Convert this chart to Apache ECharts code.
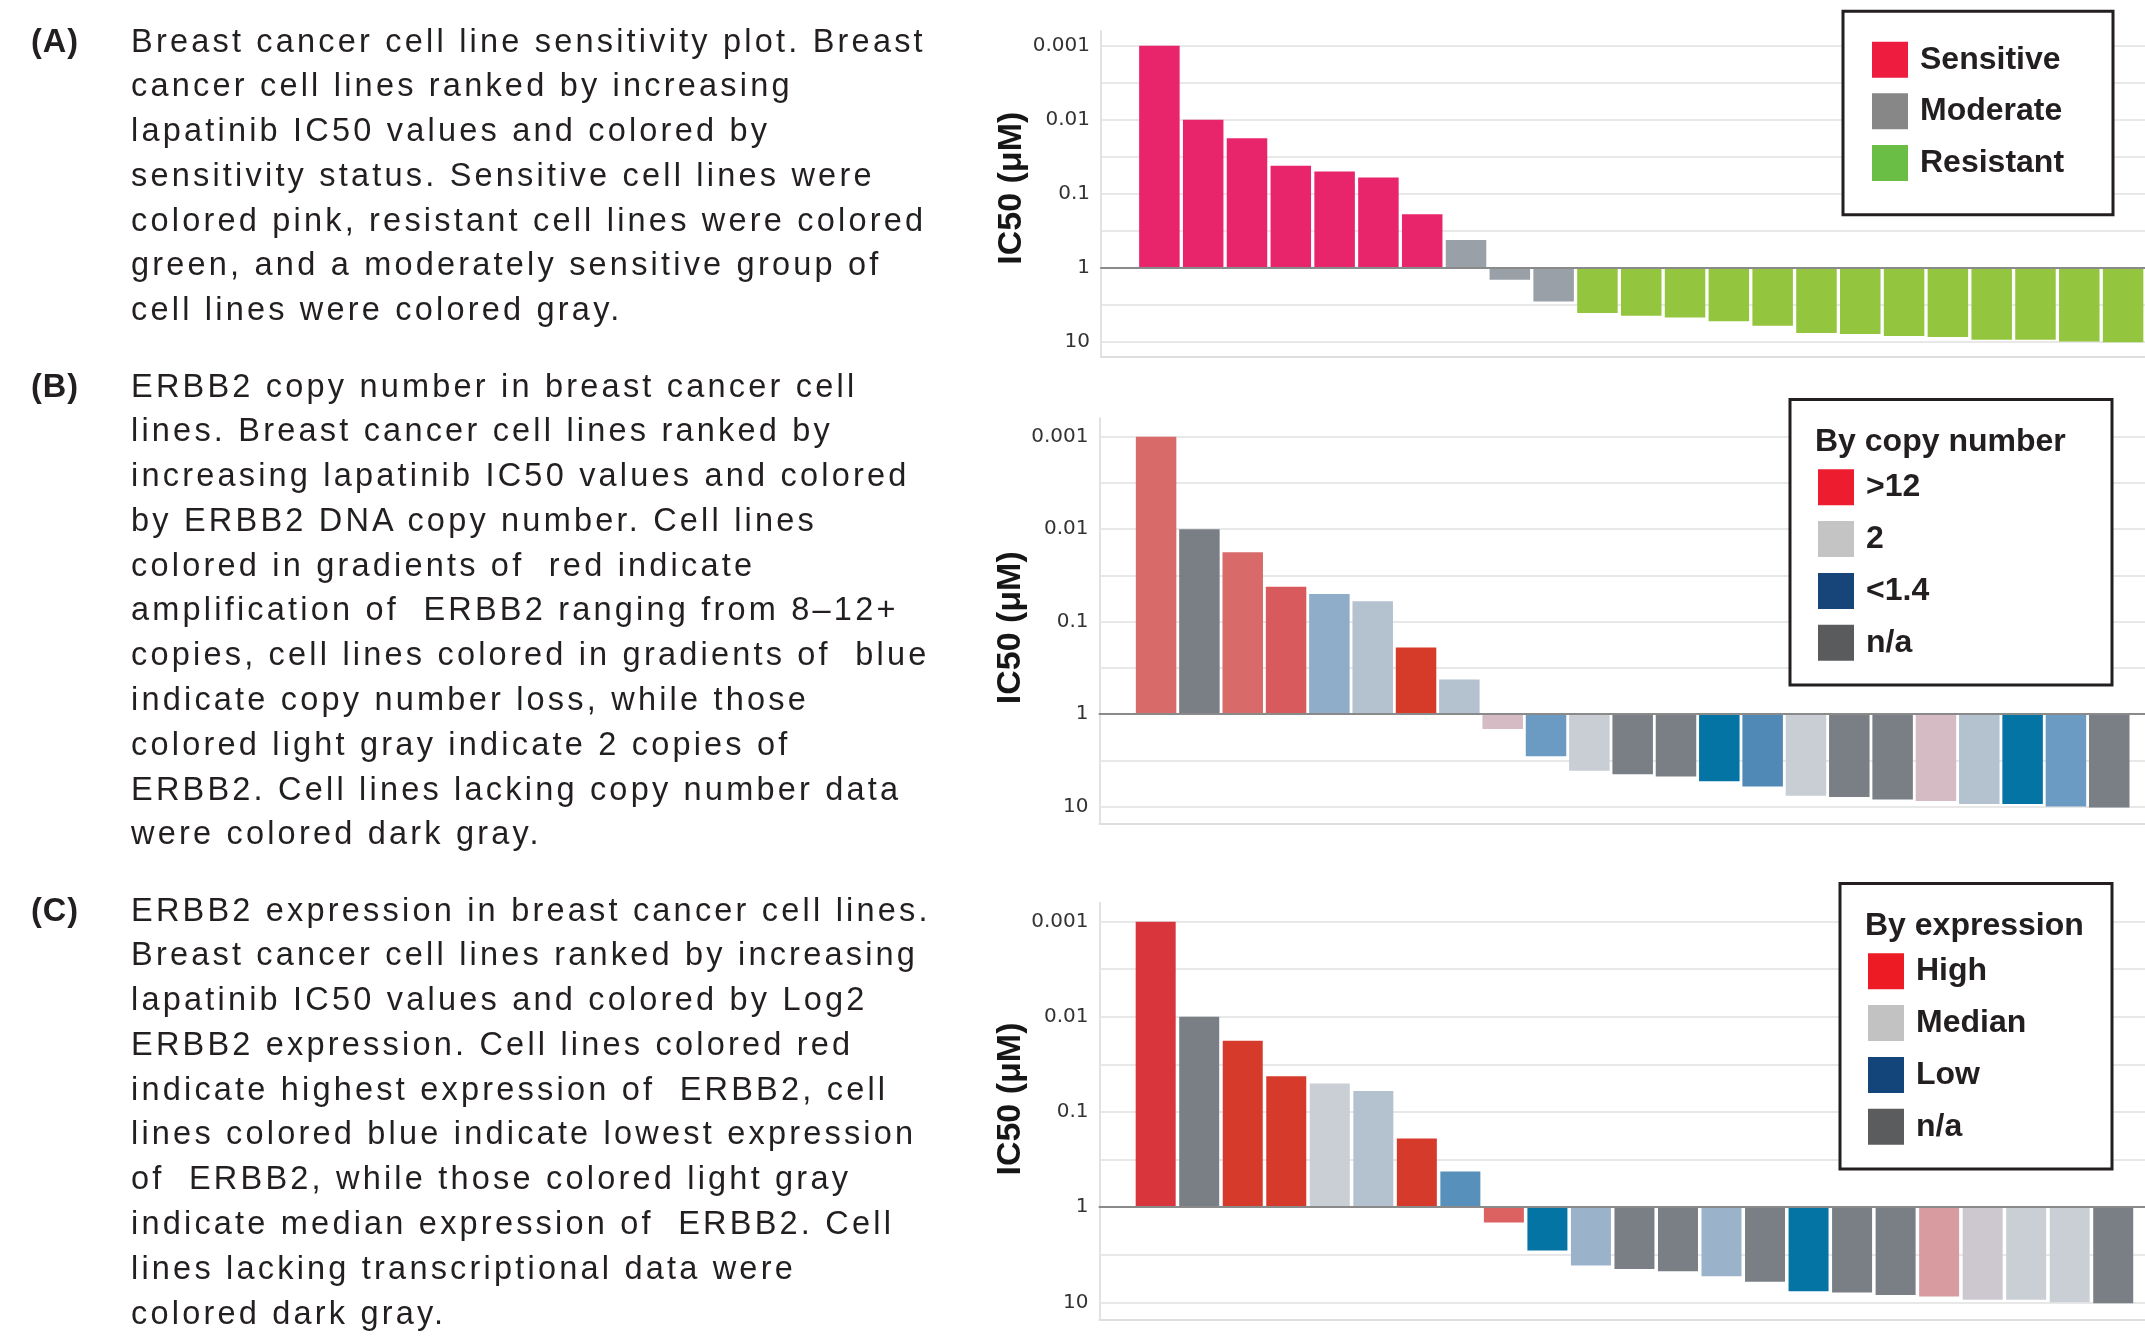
<!DOCTYPE html>
<html>
<head>
<meta charset="utf-8">
<script src="https://cdn.jsdelivr.net/npm/echarts@6/dist/echarts.min.js"></script>
<style>
html,body{margin:0;padding:0;background:#ffffff;}
#chart{position:absolute;left:0;top:0;width:2145px;height:1344px;}
.cap{position:absolute;left:131px;font-family:'Liberation Sans',Arial,sans-serif;font-size:32.5px;letter-spacing:3.2px;line-height:44.8px;color:#231f20;white-space:pre;}
.lab{position:absolute;left:31px;font-family:'Liberation Sans',Arial,sans-serif;font-weight:bold;font-size:32.5px;letter-spacing:1px;line-height:44.8px;color:#231f20;white-space:pre;}
</style>
</head>
<body>
<div id="chart"></div>
<div id="captions"></div>
<script>
// ---------------- DATA ----------------
const cellRank = [1,2,3,4,5,6,7,8,9,10,11,12,13,14,15,16,17,18,19,20,21,22,23];
const ic50Values = [0.001, 0.01, 0.0178, 0.042, 0.0501, 0.0603, 0.19, 0.422, 1.45, 2.86, 4.10, 4.47, 4.71, 5.31, 6.07, 7.62, 7.87, 8.36, 8.67, 9.38, 9.38, 9.95, 10.2];
const sensitivityStatus = ['Sensitive','Sensitive','Sensitive','Sensitive','Sensitive','Sensitive','Sensitive',
  'Moderate','Moderate','Moderate',
  'Resistant','Resistant','Resistant','Resistant','Resistant','Resistant','Resistant','Resistant','Resistant','Resistant','Resistant','Resistant','Resistant'];
const copyNumberClass = ['amp_mid','na','amp_mid','amp_high','loss_low','two_blue','amp_max','two_blue',
  'two_pink','loss_mid','two','na','na','loss_max','loss_high','two','na','na','two_pink','two_blue','loss_max','loss_mid','na'];
const expressionClass = ['high_max','na','high','high','med','med_low','high','low_mid',
  'high_low','low_max','low_light','na','na','low_light','na','low_max','na','na','high_light','med_pink','med','med','na'];
const tickExponents = [-3, -2, -1, 0, 1];
const tickLabels = ['0.001', '0.01', '0.1', '1', '10'];
const legendA = ['Sensitive', 'Moderate', 'Resistant'];
const legendB = ['>12', '2', '<1.4', 'n/a'];
const legendC = ['High', 'Median', 'Low', 'n/a'];
const legendTitleB = 'By copy number';
const legendTitleC = 'By expression';
const axisName = 'IC50 (μM)';

const captionA = ['Breast cancer cell line sensitivity plot. Breast',
  'cancer cell lines ranked by increasing',
  'lapatinib IC50 values and colored by',
  'sensitivity status. Sensitive cell lines were',
  'colored pink, resistant cell lines were colored',
  'green, and a moderately sensitive group of',
  'cell lines were colored gray.'];
const captionB = ['ERBB2 copy number in breast cancer cell',
  'lines. Breast cancer cell lines ranked by',
  'increasing lapatinib IC50 values and colored',
  'by ERBB2 DNA copy number. Cell lines',
  'colored in gradients of  red indicate',
  'amplification of  ERBB2 ranging from 8–12+',
  'copies, cell lines colored in gradients of  blue',
  'indicate copy number loss, while those',
  'colored light gray indicate 2 copies of',
  'ERBB2. Cell lines lacking copy number data',
  'were colored dark gray.'];
const captionC = ['ERBB2 expression in breast cancer cell lines.',
  'Breast cancer cell lines ranked by increasing',
  'lapatinib IC50 values and colored by Log2',
  'ERBB2 expression. Cell lines colored red',
  'indicate highest expression of  ERBB2, cell',
  'lines colored blue indicate lowest expression',
  'of  ERBB2, while those colored light gray',
  'indicate median expression of  ERBB2. Cell',
  'lines lacking transcriptional data were',
  'colored dark gray.'];

// ---------------- STYLES ----------------
const statusColors = {Sensitive:'#e8246a', Moderate:'#9aa0a7', Resistant:'#93c53f'};
const copyColors = {amp_max:'#d63a28', amp_high:'#d95a5c', amp_mid:'#d96a6a', two_pink:'#d5bcc4', two:'#c9cdd4',
  two_blue:'#b4c2d0', loss_low:'#8fadc8', loss_mid:'#6b9bc3', loss_high:'#5189b6', loss_max:'#0474a4', na:'#7a7f85'};
const exprColors = {high_max:'#d8363c', high:'#d63a2a', high_low:'#dc6262', high_light:'#d89ba0', med_pink:'#cdc8cf',
  med:'#cacfd5', med_low:'#b4c2cf', low_light:'#9ab3ca', low_mid:'#5790ba', low_max:'#0474a4', na:'#7a7f85'};
const legendColorsA = ['#ee1c3f', '#878787', '#6abd45'];
const legendColorsB = ['#ed1c2e', '#c4c4c4', '#174479', '#5a5b5d'];
const legendColorsC = ['#ed1c24', '#c2c2c2', '#14457a', '#5b5c5e'];

// ---------------- CAPTIONS ----------------
const capHost = document.getElementById('captions');
function addCaption(label, lines, top) {
  const l = document.createElement('div'); l.className = 'lab'; l.style.top = top + 'px'; l.textContent = label; capHost.appendChild(l);
  const c = document.createElement('div'); c.className = 'cap'; c.style.top = top + 'px'; c.textContent = lines.join('\n'); capHost.appendChild(c);
}
addCaption('(A)', captionA, 18.5);
addCaption('(B)', captionB, 363.5);
addCaption('(C)', captionC, 887.5);

// ---------------- CHART ----------------
const panels = [
  {grid:{left:1101, top:30.9, width:1044, height:325.6}, ymax:1.2, xmin:-1.333, xmax:22.5, barWidth:40.5,
   namePad:[0,0,0,11], colors: sensitivityStatus.map(s => statusColors[s])},
  {grid:{left:1099.5, top:418.2, width:1045.5, height:405.1}, ymax:1.18, xmin:-1.306, xmax:22.825, barWidth:40.5,
   namePad:[0,14,0,0], colors: copyNumberClass.map(s => copyColors[s])},
  {grid:{left:1099.5, top:902.6, width:1045.5, height:416.9}, ymax:1.18, xmin:-1.291, xmax:22.73, barWidth:40,
   namePad:[0,0,0,24], colors: expressionClass.map(s => exprColors[s])}
];

function tickFormatter(v) {
  const r = Math.round(v);
  if (Math.abs(v - r) > 1e-6) return '';
  const idx = tickExponents.indexOf(r);
  return idx >= 0 ? tickLabels[idx] : '';
}

const grids = [], xAxes = [], yAxes = [], series = [];
panels.forEach((p, g) => {
  grids.push(Object.assign({outerBoundsMode:'none', containLabel:false}, p.grid));
  xAxes.push({type:'value', gridIndex:g, min:p.xmin, max:p.xmax, position:'top', z:5,
    axisLine:{show:true, onZero:true, lineStyle:{color:'#8a8a8a', width:2}},
    axisTick:{show:false}, axisLabel:{show:false}, splitLine:{show:false}});
  xAxes.push({type:'value', gridIndex:g, min:0, max:1, position:'bottom',
    axisLine:{show:true, onZero:false, lineStyle:{color:'#dedede', width:2}},
    axisTick:{show:false}, axisLabel:{show:false}, splitLine:{show:false}});
  yAxes.push({type:'value', gridIndex:g, inverse:true, min:-3.2, max:p.ymax, interval:0.1,
    axisLine:{show:true, onZero:false, lineStyle:{color:'#e2e2e2', width:2}},
    axisTick:{show:false},
    axisLabel:{formatter:tickFormatter, fontFamily:'DejaVu Sans', fontSize:20, color:'#333333', margin:11},
    splitLine:{show:true, lineStyle:{color:['rgba(0,0,0,0)','rgba(0,0,0,0)','#e8e8e8','rgba(0,0,0,0)','rgba(0,0,0,0)'], width:2}},
    name:axisName, nameLocation:'middle', nameGap:64,
    nameTextStyle:{fontFamily:'Liberation Sans', fontWeight:'bold', fontSize:34, color:'#161616', padding:p.namePad}});
  series.push({type:'bar', name:'IC50 ' + g, xAxisIndex:g*2, yAxisIndex:g, barWidth:p.barWidth, silent:true,
    data: cellRank.map((r, i) => ({value:[r - 1, Math.log10(ic50Values[i])], itemStyle:{color:p.colors[i]}}))});
});

// dummy series feeding the legends
const legendNames = Array.from(new Set([].concat(legendA, legendB, legendC)));
legendNames.forEach(n => series.push({type:'scatter', name:n, xAxisIndex:0, yAxisIndex:0, data:[], itemStyle:{opacity:1}}));

function legendData(names, colors) { return names.map((n, i) => ({name:n, itemStyle:{color:colors[i], opacity:1}})); }
const legendText = {fontFamily:'Liberation Sans', fontWeight:'bold', fontSize:32, color:'#231f20', padding:[4,0,0,7]};
const legends = [
  {left:1872, top:41.7, itemGap:15.6, data:legendData(legendA, legendColorsA)},
  {left:1818, top:469.3, itemGap:15.8, data:legendData(legendB, legendColorsB)},
  {left:1868, top:953.3, itemGap:15.8, data:legendData(legendC, legendColorsC)}
].map(l => Object.assign({orient:'vertical', padding:0, itemWidth:36, itemHeight:36, icon:'rect', selectedMode:false,
  itemStyle:{opacity:1}, textStyle:legendText, z:6}, l));

const graphics = [
  {type:'rect', shape:{x:1843, y:11.3, width:270, height:203.4}, style:{fill:'#ffffff', stroke:'#231f20', lineWidth:3}, z:3, silent:true},
  {type:'rect', shape:{x:1790, y:399.5, width:322, height:285.5}, style:{fill:'#ffffff', stroke:'#231f20', lineWidth:3}, z:3, silent:true},
  {type:'rect', shape:{x:1840, y:883.5, width:272, height:285.5}, style:{fill:'#ffffff', stroke:'#231f20', lineWidth:3}, z:3, silent:true},
  {type:'text', x:1815, y:442, style:{text:legendTitleB, fill:'#231f20', font:'bold 32px "Liberation Sans"', verticalAlign:'middle', align:'left'}, z:6, silent:true},
  {type:'text', x:1865, y:926.5, style:{text:legendTitleC, fill:'#231f20', font:'bold 32px "Liberation Sans"', verticalAlign:'middle', align:'left'}, z:6, silent:true}
];

const chart = echarts.init(document.getElementById('chart'), null, {renderer:'canvas'});
chart.setOption({
  animation:false,
  backgroundColor:'#ffffff',
  grid:grids, xAxis:xAxes, yAxis:yAxes, series:series,
  legend:legends,
  graphic:graphics
});
</script>
</body>
</html>
